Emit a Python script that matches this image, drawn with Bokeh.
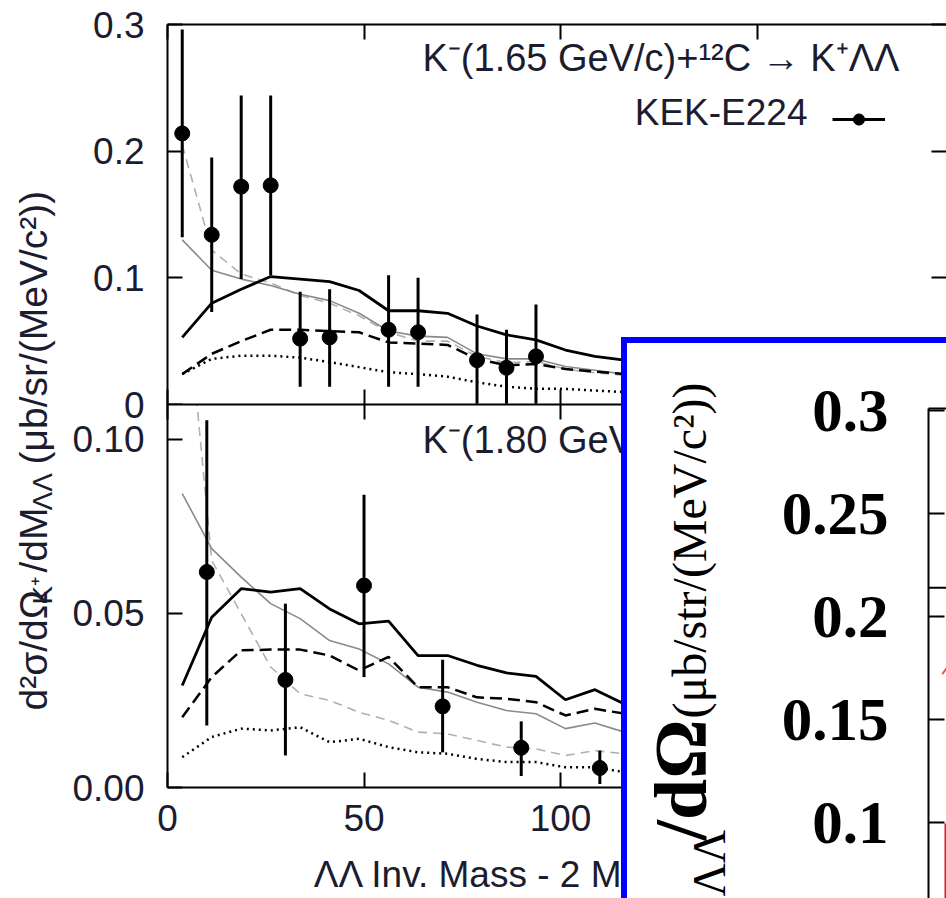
from bokeh.plotting import figure
from bokeh.models import (Range1d, LinearAxis, FixedTicker, Label, Legend,
                          LegendItem, ColumnDataSource)
from bokeh.layouts import column
from bokeh.embed import file_html
from bokeh.resources import INLINE

# ---------------- data ----------------
# model curves: bin centres of Lambda-Lambda invariant mass - 2 M_Lambda (MeV/c^2)
curve_mass = [3.75, 11.25, 18.75, 26.25, 33.75, 41.25, 48.75, 56.25,
              63.75, 71.25, 78.75, 86.25, 93.75, 101.25, 108.75, 116.25]

# K- (1.65 GeV/c) panel
top_solid = [0.053, 0.080, 0.091, 0.101, 0.099, 0.097, 0.090, 0.074,
             0.074, 0.072, 0.062, 0.055, 0.051, 0.043, 0.038, 0.035]
top_thin = [0.130, 0.106, 0.099, 0.094, 0.087, 0.082, 0.072, 0.058,
            0.054, 0.053, 0.040, 0.036, 0.036, 0.030, 0.027, 0.024]
top_dashed = [0.024, 0.040, 0.050, 0.059, 0.059, 0.058, 0.057, 0.049,
              0.048, 0.047, 0.036, 0.031, 0.032, 0.028, 0.026, 0.024]
top_dotted = [0.024, 0.036, 0.0385, 0.0385, 0.037, 0.0335, 0.0295, 0.0255,
              0.024, 0.022, 0.0175, 0.014, 0.0125, 0.0123, 0.011, 0.0098]
top_thin_dashed = [0.205, 0.122, 0.103, 0.096, 0.086, 0.080, 0.070, 0.057,
                   0.050, 0.050, 0.038, 0.033, 0.034, 0.028, 0.025, 0.023]

top_data_x = [3.75, 11.25, 18.75, 26.25, 33.75, 41.25, 56.25, 63.75, 78.75, 86.25, 93.75]
top_data_y = [0.214, 0.134, 0.172, 0.173, 0.052, 0.053, 0.059, 0.057, 0.035, 0.029, 0.038]
top_err_lo = [0.132, 0.073, 0.099, 0.102, 0.014, 0.014, 0.014, 0.014, 0.0005, 0.0005, 0.0005]
top_err_hi = [0.296, 0.195, 0.244, 0.244, 0.089, 0.091, 0.102, 0.100, 0.071, 0.059, 0.079]

# K- (1.80 GeV/c) panel
bot_solid = [0.0293, 0.0489, 0.0571, 0.0561, 0.0571, 0.0513, 0.0470, 0.0478,
             0.0379, 0.0379, 0.0351, 0.0329, 0.0319, 0.0252, 0.0281, 0.0240]
bot_thin = [0.0844, 0.0686, 0.0604, 0.0528, 0.0485, 0.0422, 0.0398, 0.0355,
            0.0288, 0.0274, 0.0245, 0.0221, 0.0212, 0.0169, 0.0185, 0.0159]
bot_dashed = [0.0202, 0.0317, 0.0394, 0.0396, 0.0396, 0.0379, 0.0336, 0.0375,
              0.0288, 0.0288, 0.0259, 0.0255, 0.0245, 0.0207, 0.0226, 0.0212]
bot_dotted = [0.0087, 0.0145, 0.0169, 0.0164, 0.0173, 0.0130, 0.0140, 0.0116,
              0.0101, 0.0097, 0.0082, 0.0073, 0.0073, 0.0058, 0.0058, 0.0044]
bot_thin_dashed = [0.155, 0.0652, 0.0499, 0.0346, 0.0269, 0.0250, 0.0216, 0.0193,
                   0.0159, 0.0154, 0.0135, 0.0116, 0.0111, 0.0092, 0.0106, 0.0097]

bot_data_x = [10, 30, 50, 70, 90, 110]
bot_data_y = [0.0619, 0.0309, 0.0580, 0.0233, 0.0114, 0.0056]
bot_err_lo = [0.0178, 0.0092, 0.0317, 0.0101, 0.0033, 0.0010]
bot_err_hi = [0.1055, 0.0528, 0.0841, 0.0367, 0.0190, 0.0106]

# axes ticks / labels
x_ticks = [0, 50, 100, 150]
x_tick_labels = ["0", "50", "100", "150"]
top_y_ticks = [0, 0.1, 0.2, 0.3]
top_y_labels = ["0", "0.1", "0.2", "0.3"]
bot_y_ticks = [0, 0.05, 0.10]
bot_y_labels = ["0.00", "0.05", "0.10"]

# inset (cropped corner of a second chart)
inset_y_ticks = [0.1, 0.15, 0.2, 0.25, 0.3]
inset_y_labels = ["0.1", "0.15", "0.2", "0.25", "0.3"]
inset_hist_x = [0, 18]
inset_hist_y = [0.214, 0.214]
inset_bar_left = [12]
inset_bar_right = [18]
inset_bar_top = [0.0995]
inset_curve_x = [10.3, 18]
inset_curve_y = [0.172, 0.179]

title_top = "K\u207b(1.65 GeV/c)+\u00b9\u00b2C \u2192 K\u207a\u039b\u039b"
title_bot = "K\u207b(1.80 GeV/c)+\u00b9\u00b2C \u2192 K\u207a\u039b\u039b"
legend_label = "KEK-E224"
x_title = "\u039b\u039b Inv. Mass - 2 M\u039b (MeV/c\u00b2)"

# ---------------- styling ----------------
FONT = "Liberation Sans"
TXT = "#1c1c30"
X_END = 198.2
W = 946


def hide_labels(ax):
    ax.major_label_text_font_size = "1px"
    ax.major_label_text_color = None
    ax.major_label_standoff = 0


def style_axis(ax, labels):
    ax.axis_line_width = 2
    ax.axis_line_color = "black"
    ax.major_tick_in = 15
    ax.major_tick_out = 0
    ax.minor_tick_in = 0
    ax.minor_tick_out = 0
    ax.major_tick_line_width = 2
    ax.major_tick_line_color = "black"
    ax.minor_tick_line_color = None
    if labels:
        ax.major_label_text_font = FONT
        ax.major_label_text_font_size = "37px"
        ax.major_label_text_color = TXT
    else:
        hide_labels(ax)


def panel(h, y_end, mb_top, mb_bottom, yticks, ylabels, xlabels):
    p = figure(width=W, height=h, x_range=Range1d(0, X_END), y_range=Range1d(0, y_end),
               output_backend="svg", toolbar_location=None,
               x_axis_location=None, y_axis_location=None, frame_align=False,
               min_border_left=167, min_border_right=0,
               min_border_top=mb_top, min_border_bottom=mb_bottom)
    p.grid.grid_line_color = None
    p.outline_line_color = None
    left = LinearAxis(ticker=FixedTicker(ticks=yticks),
                      major_label_overrides=dict(zip(yticks, ylabels)))
    style_axis(left, True)
    left.major_label_standoff = 23
    p.add_layout(left, "left")
    right = LinearAxis(ticker=FixedTicker(ticks=yticks))
    style_axis(right, False)
    right.axis_line_color = None          # the right frame edge lies just outside the picture
    p.add_layout(right, "right")
    above = LinearAxis(ticker=FixedTicker(ticks=x_ticks))
    style_axis(above, False)
    p.add_layout(above, "above")
    below = LinearAxis(ticker=FixedTicker(ticks=x_ticks),
                       major_label_overrides=dict(zip(x_ticks, x_tick_labels)))
    style_axis(below, xlabels)
    if xlabels:
        below.major_label_standoff = 17
        below.axis_label = x_title
        below.axis_label_text_font = FONT
        below.axis_label_text_font_size = "37px"
        below.axis_label_text_font_style = "normal"
        below.axis_label_text_color = TXT
        below.axis_label_standoff = 20
    p.add_layout(below, "below")
    return p


def draw(p, thin_dashed, thin, dashed, dotted, solid, dx, dy, lo, hi):
    src = ColumnDataSource(dict(x=curve_mass, td=thin_dashed, th=thin, da=dashed, do=dotted, so=solid))
    p.line("x", "td", source=src, line_color="#b0b0b0", line_width=1.6, line_dash="9 6")
    p.line("x", "th", source=src, line_color="#8a8a8a", line_width=1.6)
    p.line("x", "do", source=src, line_color="black", line_width=2.5, line_dash="2 4")
    p.line("x", "da", source=src, line_color="black", line_width=2.5, line_dash="12 6")
    p.line("x", "so", source=src, line_color="black", line_width=2.8)
    dsrc = ColumnDataSource(dict(x=dx, y=dy, lo=lo, hi=hi))
    seg = p.segment(x0="x", y0="lo", x1="x", y1="hi", source=dsrc, line_color="black", line_width=3)
    pts = p.scatter("x", "y", source=dsrc, size=15, marker="circle", fill_color="black", line_color="black")
    return seg, pts


# ---- top panel (canvas reaches a bit below its frame so the "0" label is whole) ----
top = panel(425, 0.3, 24, 21, top_y_ticks, top_y_labels, False)
seg_t, pts_t = draw(top, top_thin_dashed, top_thin, top_dashed, top_dotted, top_solid,
                    top_data_x, top_data_y, top_err_lo, top_err_hi)
top.add_layout(Label(x=255, y=326, x_units="screen", y_units="screen", text=title_top,
                     text_font=FONT, text_font_size="38px", text_color=TXT))
top.add_layout(Label(x=640, y=272, x_units="screen", y_units="screen", text=legend_label,
                     text_align="right", text_font=FONT, text_font_size="37px", text_color=TXT))
leg = Legend(items=[LegendItem(label=" ", renderers=[seg_t, pts_t])], location=(665, 271),
             padding=0, margin=0, spacing=0, label_standoff=0, label_width=0,
             glyph_width=53, glyph_height=28, border_line_color=None,
             background_fill_alpha=0, label_text_font_size="1px", label_text_color=None)
top.add_layout(leg)

# ---- bottom panel ----
bot = panel(494, 0.11, 0, 111, bot_y_ticks, bot_y_labels, True)
bot.border_fill_alpha = 0
draw(bot, bot_thin_dashed, bot_thin, bot_dashed, bot_dotted, bot_solid,
     bot_data_x, bot_data_y, bot_err_lo, bot_err_hi)
bot.add_layout(Label(x=255, y=327, x_units="screen", y_units="screen", text=title_bot,
                     text_font=FONT, text_font_size="38px", text_color=TXT))
bot.styles = {"position": "absolute", "left": "0px", "top": "404px"}

# ---- shared y title (overlay) ----
tfig = figure(width=70, height=898, x_range=Range1d(0, 1), y_range=Range1d(0, 1),
              output_backend="svg", toolbar_location=None, frame_align=False,
              x_axis_location=None, y_axis_location=None,
              min_border_left=0, min_border_right=0, min_border_top=0, min_border_bottom=0)
tfig.grid.grid_line_color = None
tfig.outline_line_color = None
tfig.background_fill_alpha = 0
tfig.border_fill_alpha = 0
pieces = [("d\u00b2\u03c3/d\u03a9", 33, 188, "39px"),
          ("K\u207a", 42, 294, "28px"),
          ("/dM", 33, 326, "39px"),
          ("\u039b\u039b", 42, 388, "28px"),
          ("(\u03bcb/sr/(MeV/c\u00b2))", 33, 434, "39px")]
for txt, xx, yy, fs in pieces:
    tfig.add_layout(Label(x=xx, y=yy, x_units="screen", y_units="screen", text=txt, angle=90,
                          angle_units="deg", text_font=FONT, text_font_size=fs,
                          text_color=TXT, text_baseline="alphabetic", text_align="left"))
tfig.styles = {"position": "absolute", "left": "0px", "top": "0px"}

# ---- inset (cropped second figure with blue frame) ----
ins = figure(width=325, height=561, x_range=Range1d(0, 18), y_range=Range1d(0.0602, 0.301),
             output_backend="svg", toolbar_location=None, frame_align=False,
             x_axis_location=None, y_axis_location=None,
             min_border_left=301, min_border_right=0, min_border_top=65, min_border_bottom=0)
ins.grid.grid_line_color = None
ins.outline_line_color = None
iy = LinearAxis(ticker=FixedTicker(ticks=inset_y_ticks),
                major_label_overrides=dict(zip(inset_y_ticks, inset_y_labels)))
iy.axis_line_width = 2
iy.major_tick_in = 16
iy.major_tick_out = 0
iy.minor_tick_in = 0
iy.minor_tick_out = 0
iy.major_tick_line_width = 2
iy.minor_tick_line_color = None
iy.major_label_text_font = "Liberation Serif"
iy.major_label_text_font_style = "bold"
iy.major_label_text_font_size = "61px"
iy.major_label_text_color = "black"
iy.major_label_standoff = 40
ins.add_layout(iy, "left")
ia = LinearAxis(ticker=FixedTicker(ticks=[]))
ia.axis_line_width = 2
ia.major_tick_in = 0
ia.major_tick_out = 0
ia.minor_tick_in = 0
ia.minor_tick_out = 0
hide_labels(ia)
ins.add_layout(ia, "above")
ins.quad(left=inset_bar_left, right=inset_bar_right, top=inset_bar_top, bottom=0,
         fill_color="#e3161c", line_color=None)
ins.line(inset_curve_x, inset_curve_y, line_color="#e0603a", line_width=2)
ins.line(inset_hist_x, inset_hist_y, line_color="black", line_width=2)
ins.styles = {"position": "absolute", "left": "621px", "top": "337px",
              "border-left": "6px solid #0000ff", "border-top": "6px solid #0000ff",
              "background-color": "white"}

# inset's rotated axis title (overlay)
ifig = figure(width=140, height=555, x_range=Range1d(0, 1), y_range=Range1d(0, 1),
              output_backend="svg", toolbar_location=None, frame_align=False,
              x_axis_location=None, y_axis_location=None,
              min_border_left=0, min_border_right=0, min_border_top=0, min_border_bottom=0)
ifig.grid.grid_line_color = None
ifig.outline_line_color = None
ifig.background_fill_alpha = 0
ifig.border_fill_alpha = 0
ifig.add_layout(Label(x=88, y=180, x_units="screen", y_units="screen",
                      text="(\u03bcb/str/(MeV/c\u00b2))", angle=90, angle_units="deg",
                      text_font="Liberation Serif", text_font_size="48px", text_color="black"))
ifig.add_layout(Label(x=94, y=58, x_units="screen", y_units="screen",
                      text="/d\u03a9", angle=90, angle_units="deg",
                      text_font="Liberation Serif", text_font_style="bold",
                      text_font_size="74px", text_color="black"))
ifig.add_layout(Label(x=107, y=2, x_units="screen", y_units="screen",
                      text="\u039b\u039b", angle=90, angle_units="deg",
                      text_font="Liberation Serif", text_font_size="46px", text_color="black"))
ifig.styles = {"position": "absolute", "left": "627px", "top": "343px"}

root = column(top, bot, tfig, ins, ifig, spacing=0, width=946, height=898)
open("out.html", "w").write(file_html(root, INLINE))
